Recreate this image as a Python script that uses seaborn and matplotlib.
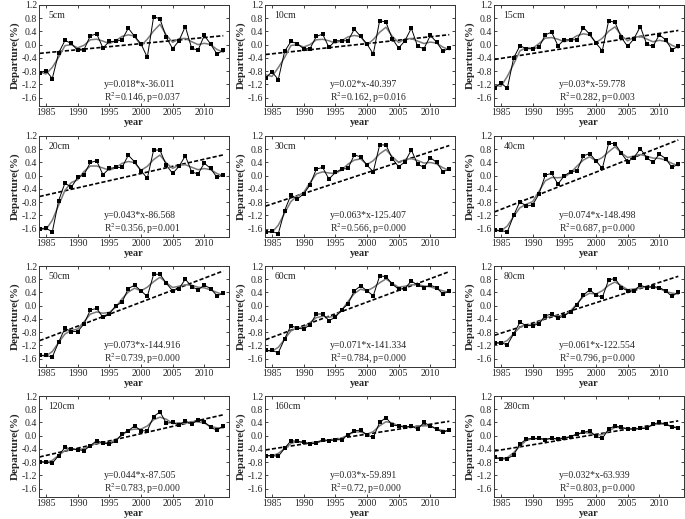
import numpy as np
import pandas as pd
import matplotlib
matplotlib.use("Agg")
import matplotlib.pyplot as plt
import seaborn as sns

years = list(range(1984, 2014))

depths = ["5cm", "10cm", "15cm", "20cm", "30cm", "40cm",
          "50cm", "60cm", "80cm", "120cm", "160cm", "280cm"]

d5 = [-0.85, -0.78, -1.02, -0.25, 0.13, 0.04, -0.17, -0.15, 0.27, 0.33, -0.10, 0.10, 0.10, 0.15, 0.50,
      0.25, 0.03, -0.38, 0.85, 0.78, 0.22, -0.12, 0.12, 0.55, -0.10, -0.17, 0.28, 0.02, -0.28, -0.17]
d10 = [-1.00, -0.82, -1.05, -0.20, 0.10, 0.03, -0.12, -0.12, 0.25, 0.32, -0.08, 0.12, 0.12, 0.12, 0.47,
       0.25, 0.02, -0.28, 0.73, 0.68, 0.18, -0.10, 0.12, 0.50, -0.05, -0.12, 0.28, 0.08, -0.20, -0.10]
d15 = [-1.30, -1.15, -1.32, -0.40, -0.03, -0.12, -0.12, -0.08, 0.30, 0.38, -0.03, 0.15, 0.15, 0.15, 0.52,
       0.32, 0.05, -0.18, 0.72, 0.68, 0.22, -0.05, 0.18, 0.55, 0.02, -0.05, 0.30, 0.15, -0.15, -0.05]
d20 = [-1.60, -1.58, -1.70, -0.75, -0.22, -0.35, -0.05, 0.03, 0.40, 0.45, 0.03, 0.22, 0.25, 0.25, 0.62,
       0.42, 0.15, -0.08, 0.78, 0.77, 0.32, 0.07, 0.28, 0.60, 0.12, 0.05, 0.38, 0.22, -0.05, 0.03]
d30 = [-1.70, -1.68, -1.75, -1.05, -0.58, -0.70, -0.55, -0.28, 0.20, 0.25, -0.10, 0.10, 0.20, 0.22, 0.63,
       0.57, 0.32, 0.12, 0.93, 0.93, 0.52, 0.27, 0.42, 0.78, 0.35, 0.25, 0.55, 0.40, 0.12, 0.20]
d40 = [-1.65, -1.65, -1.70, -1.20, -0.78, -0.92, -0.88, -0.55, 0.02, 0.07, -0.25, 0.00, 0.12, 0.15, 0.60,
       0.67, 0.45, 0.22, 0.98, 0.97, 0.68, 0.42, 0.55, 0.82, 0.55, 0.40, 0.65, 0.52, 0.25, 0.35]
d50 = [-1.50, -1.50, -1.55, -1.10, -0.68, -0.78, -0.78, -0.55, -0.13, -0.08, -0.35, -0.25, 0.00, 0.10, 0.52,
       0.62, 0.45, 0.28, 0.95, 0.95, 0.68, 0.45, 0.52, 0.80, 0.58, 0.48, 0.62, 0.52, 0.30, 0.38]
d60 = [-1.35, -1.35, -1.42, -1.00, -0.60, -0.68, -0.70, -0.58, -0.25, -0.25, -0.45, -0.35, -0.12, 0.05, 0.45,
       0.60, 0.45, 0.30, 0.90, 0.88, 0.65, 0.50, 0.52, 0.75, 0.62, 0.55, 0.62, 0.55, 0.35, 0.45]
d80 = [-1.12, -1.12, -1.18, -0.85, -0.50, -0.60, -0.60, -0.55, -0.30, -0.25, -0.38, -0.30, -0.18, 0.03, 0.32,
       0.48, 0.33, 0.25, 0.78, 0.82, 0.55, 0.45, 0.45, 0.62, 0.55, 0.58, 0.55, 0.45, 0.28, 0.42]
d120 = [-0.78, -0.80, -0.83, -0.60, -0.35, -0.40, -0.42, -0.45, -0.30, -0.15, -0.22, -0.25, -0.17, 0.05, 0.15,
        0.30, 0.15, 0.15, 0.58, 0.72, 0.38, 0.40, 0.32, 0.45, 0.35, 0.48, 0.42, 0.25, 0.17, 0.30]
d160 = [-0.60, -0.60, -0.62, -0.38, -0.15, -0.17, -0.20, -0.25, -0.22, -0.12, -0.15, -0.12, -0.12, 0.03, 0.15,
        0.17, 0.02, -0.05, 0.40, 0.55, 0.32, 0.30, 0.25, 0.30, 0.20, 0.40, 0.30, 0.20, 0.10, 0.18]
d280 = [-0.65, -0.70, -0.70, -0.58, -0.25, -0.10, -0.08, -0.08, -0.12, -0.07, -0.10, -0.08, -0.03, 0.05, 0.10,
        0.15, -0.02, -0.08, 0.20, 0.30, 0.25, 0.20, 0.20, 0.22, 0.22, 0.35, 0.40, 0.35, 0.27, 0.22]

series = [d5, d10, d15, d20, d30, d40, d50, d60, d80, d120, d160, d280]

equations = ["y=0.018*x-36.011", "y=0.02*x-40.397", "y=0.03*x-59.778",
             "y=0.043*x-86.568", "y=0.063*x-125.407", "y=0.074*x-148.498",
             "y=0.073*x-144.916", "y=0.071*x-141.334", "y=0.061*x-122.554",
             "y=0.044*x-87.505", "y=0.03*x-59.891", "y=0.032*x-63.939"]
stats = ["0.146, p=0.037", "0.162, p=0.016", "0.282, p=0.003",
         "0.356, p=0.001", "0.566, p=0.000", "0.687, p=0.000",
         "0.739, p=0.000", "0.784, p=0.000", "0.796, p=0.000",
         "0.783, p=0.000", "0.72, p=0.000", "0.803, p=0.000"]

yticks = [-1.6, -1.2, -0.8, -0.4, 0.0, 0.4, 0.8, 1.2]
xticks = [1985, 1990, 1995, 2000, 2005, 2010]

sns.set_style("ticks")
plt.rcParams["font.family"] = ["Liberation Serif", "DejaVu Serif"]
plt.rcParams["mathtext.fontset"] = "stix"

W, H = 685, 519
fig = plt.figure(figsize=(6.85, 5.19), dpi=100)

col_left = [39, 265, 494]
row_top = [5, 136, 266, 396]
aw, ah = 190, 101

for i, (name, vals) in enumerate(zip(depths, series)):
    r, c = divmod(i, 3)
    ax = fig.add_axes([col_left[c] / W, 1 - (row_top[r] + ah) / H, aw / W, ah / H])
    df = pd.DataFrame({"year": years, "dep": vals})
    df["smooth"] = df["dep"].rolling(3, center=True, min_periods=1).mean()

    sns.regplot(data=df, x="year", y="dep", ax=ax, scatter=False, ci=None,
                line_kws=dict(color="black", lw=1.2, ls=(0, (2.5, 1.3))))
    sns.lineplot(data=df, x="year", y="smooth", ax=ax, color="#7a7a7a", lw=1.1)
    sns.lineplot(data=df, x="year", y="dep", ax=ax, color="black", lw=0.7,
                 marker="s", markersize=3.3, markeredgewidth=0, markerfacecolor="black")

    ax.set_xlim(1983.9, 2013.9)
    ax.set_ylim(-1.85, 1.2)
    ax.set_yticks(yticks)
    ax.set_yticklabels([f"{v:.1f}" for v in yticks])
    ax.set_xticks(xticks)
    ax.set_xticklabels([str(v) for v in xticks])
    ax.tick_params(direction="in", length=2, width=0.6, labelsize=7, pad=1.5,
                   top=True, right=True)
    for s in ax.spines.values():
        s.set_linewidth(0.7)
        s.set_color("#333333")
    ax.set_xlabel("year", fontsize=7.5, fontweight="bold", labelpad=1)
    ax.set_ylabel("Departure(%)", fontsize=8, fontweight="bold", labelpad=1)

    ax.text(0.05, 0.9, name, transform=ax.transAxes, fontsize=7, va="center")
    tx = 1994.2
    ax.text(tx, -1.2, equations[i], fontsize=7, va="center")
    ax.text(tx, -1.6, "R$^2$=" + stats[i], fontsize=7, va="center")

fig.savefig("out.png", dpi=100)
